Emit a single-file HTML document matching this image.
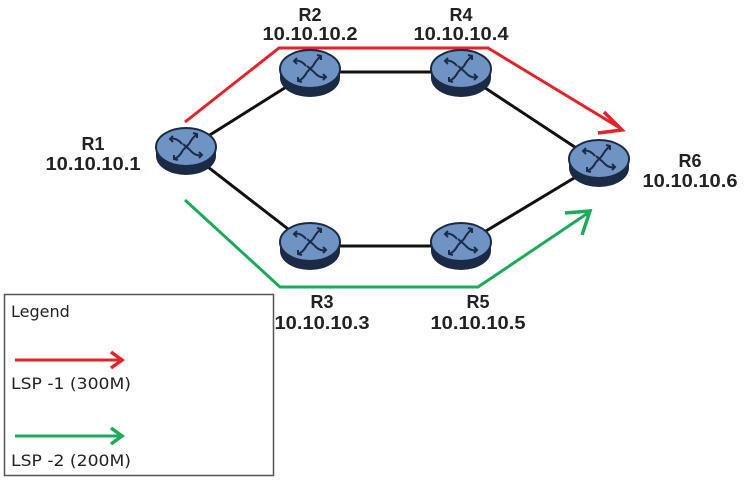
<!DOCTYPE html>
<html><head><meta charset="utf-8"><style>
html,body{margin:0;padding:0;background:#fff;}
svg{display:block;}
.lb{font-family:"Liberation Sans",Arial,sans-serif;font-weight:bold;font-size:18px;fill:#222;text-anchor:middle;}
.lg{font-family:"DejaVu Sans","Liberation Sans",sans-serif;font-size:16px;fill:#222;}
</style></head><body>
<svg width="744" height="480" viewBox="0 0 744 480" xmlns="http://www.w3.org/2000/svg">
<defs>
<g id="rt">
  <path d="M-30,0 L-30,9 A30,19 0 0 0 30,9 L30,0 Z" fill="#1c2b45"/>
  <ellipse cx="0" cy="0" rx="30" ry="19" fill="#6f93c2" stroke="#1c2b45" stroke-width="2"/>
  <g fill="none" stroke="#1c2b45" stroke-width="2">
    <path d="M-4,-3 C-8,-8 -12,-9 -16,-8"/><path d="M-13,-11 L-16,-8 L-13,-5"/>
    <path d="M3,-3 C6,-9 9,-11 11,-13"/><path d="M7,-14 L11,-13 L11,-9"/>
    <path d="M-3,3 C-6,9 -9,11 -12,12"/><path d="M-12,8 L-12,12 L-8,13"/>
    <path d="M4,3 C8,8 12,9 16,8"/><path d="M13,5 L16,8 L13,11"/>
    <path d="M-3,-3 L4,3 M3,-3 L-3,3"/>
  </g>
</g>
</defs>
<g stroke="#111" stroke-width="3">
  <line x1="186" y1="150" x2="310" y2="72"/>
  <line x1="310" y1="72" x2="461" y2="72"/>
  <line x1="461" y1="72" x2="599" y2="163"/>
  <line x1="186" y1="150" x2="310" y2="246"/>
  <line x1="310" y1="246" x2="461" y2="246"/>
  <line x1="461" y1="246" x2="599" y2="163"/>
</g>
<polyline points="185,122 279,48 488,48 620,128" fill="none" stroke="#e0242a" stroke-width="3"/>
<polyline points="604,112 622,130 598,133" fill="none" stroke="#e0242a" stroke-width="3.5"/>
<polyline points="185,200 280,287 478,287 588,213" fill="none" stroke="#1faa5a" stroke-width="3"/>
<polyline points="565,213 590,211 582,235" fill="none" stroke="#1faa5a" stroke-width="3.5"/>
<use href="#rt" x="186" y="147"/>
<use href="#rt" x="310" y="69"/>
<use href="#rt" x="461" y="69"/>
<use href="#rt" x="599" y="159"/>
<use href="#rt" x="310" y="242"/>
<use href="#rt" x="461" y="242"/>
<text class="lb" x="310" y="21">R2</text><text class="lb" x="310" y="40" textLength="95" lengthAdjust="spacingAndGlyphs">10.10.10.2</text>
<text class="lb" x="461" y="21">R4</text><text class="lb" x="461" y="40" textLength="95" lengthAdjust="spacingAndGlyphs">10.10.10.4</text>
<text class="lb" x="93" y="150">R1</text><text class="lb" x="93" y="170" textLength="95" lengthAdjust="spacingAndGlyphs">10.10.10.1</text>
<text class="lb" x="690" y="167">R6</text><text class="lb" x="690" y="187" textLength="95" lengthAdjust="spacingAndGlyphs">10.10.10.6</text>
<text class="lb" x="322" y="308">R3</text><text class="lb" x="322" y="329" textLength="95" lengthAdjust="spacingAndGlyphs">10.10.10.3</text>
<text class="lb" x="478" y="308">R5</text><text class="lb" x="478" y="329" textLength="95" lengthAdjust="spacingAndGlyphs">10.10.10.5</text>
<rect x="4.5" y="294.5" width="269" height="181" fill="#fff" stroke="#555" stroke-width="1.5"/>
<text class="lg" x="11" y="317">Legend</text>
<line x1="15" y1="360" x2="120" y2="360" stroke="#e0242a" stroke-width="3"/>
<polyline points="111,352 122,360 111,368" fill="none" stroke="#e0242a" stroke-width="3.5"/>
<text class="lg" x="11" y="389" textLength="120" lengthAdjust="spacingAndGlyphs">LSP -1 (300M)</text>
<line x1="15" y1="436" x2="120" y2="436" stroke="#1faa5a" stroke-width="3"/>
<polyline points="111,428 122,436 111,444" fill="none" stroke="#1faa5a" stroke-width="3.5"/>
<text class="lg" x="11" y="466" textLength="120" lengthAdjust="spacingAndGlyphs">LSP -2 (200M)</text>
</svg>
</body></html>
